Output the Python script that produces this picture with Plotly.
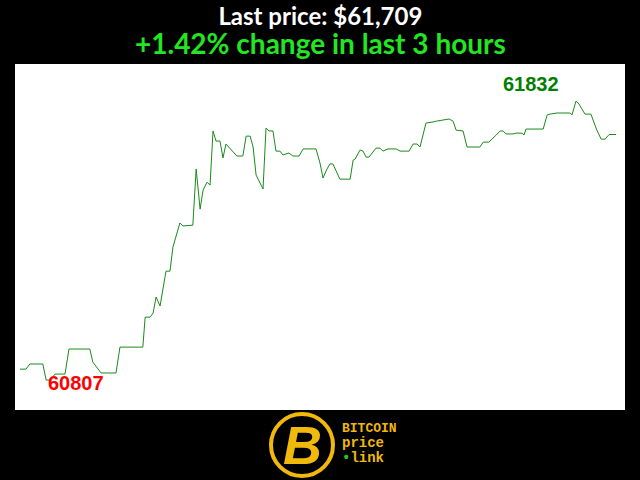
import plotly.graph_objects as go

# minutes since start of the 3 hour window, and BTC price (USD)
minutes = [
    0.0, 1.8, 3.0, 6.9, 7.9, 9.1, 10.6, 13.6, 14.8, 21.1,
    22.0, 24.5, 29.0, 30.2, 37.1, 37.8, 39.3, 40.2, 41.1, 42.3,
    44.1, 45.3, 46.2, 47.1, 48.3, 49.2, 52.2, 53.2, 54.4, 55.3,
    56.5, 57.4, 58.3, 59.2, 60.4, 61.3, 62.2, 65.5, 67.3, 68.3,
    69.5, 70.4, 71.3, 73.4, 74.3, 75.2, 76.4, 77.3, 78.5, 79.4,
    80.3, 81.2, 82.4, 84.3, 85.5, 89.4, 90.6, 91.5, 92.7, 93.6,
    94.5, 96.6, 99.7, 100.6, 101.2, 102.7, 103.6, 104.5, 105.4, 107.5,
    108.7, 109.6, 111.1, 113.6, 114.8, 117.5, 118.7, 119.9, 120.8, 122.0,
    122.6, 124.7, 125.7, 129.6, 130.8, 131.7, 133.8, 135.0, 138.9, 139.9,
    141.6, 143.8, 145.0, 145.9, 146.8, 148.9, 149.8, 151.6, 152.2, 152.8,
    158.0, 159.2, 160.1, 162.2, 166.1, 166.7, 167.9, 168.8, 170.6, 172.4,
    174.2, 175.5, 176.7, 177.9, 180.0,
]
prices = [
    60847, 60847, 60866, 60866, 60807, 60807, 60829, 60829, 60921, 60921,
    60873, 60833, 60833, 60928, 60928, 61038, 61038, 61053, 61112, 61079,
    61207, 61207, 61296, 61332, 61384, 61373, 61376, 61582, 61435, 61505,
    61534, 61523, 61722, 61685, 61685, 61623, 61674, 61630, 61630, 61703,
    61703, 61663, 61560, 61509, 61733, 61722, 61722, 61648, 61648, 61634,
    61637, 61641, 61630, 61630, 61656, 61656, 61604, 61549, 61582, 61601,
    61601, 61545, 61545, 61615, 61619, 61652, 61648, 61626, 61626, 61659,
    61659, 61648, 61656, 61656, 61648, 61648, 61674, 61674, 61663, 61725,
    61751, 61755, 61758, 61766, 61758, 61725, 61722, 61663, 61663, 61681,
    61681, 61707, 61722, 61722, 61711, 61711, 61714, 61714, 61707, 61729,
    61729, 61781, 61784, 61788, 61788, 61781, 61832, 61821, 61784, 61784,
    61725, 61692, 61692, 61709, 61709,
]

last_price = 61709
change_pct = 1.42
hours = 3

lo = min(prices)
hi = max(prices)
t_lo = minutes[prices.index(lo)]
t_hi = minutes[prices.index(hi)]

gold = "#f0b90b"

fig = go.Figure()
fig.add_trace(go.Scatter(
    x=minutes, y=prices, mode="lines",
    line=dict(color="#1a8a1a", width=1),
    hoverinfo="skip", showlegend=False,
))

# min / max labels
fig.add_annotation(x=t_lo, y=lo, text=f"<b>{lo}</b>", showarrow=False,
                   xanchor="left", yanchor="middle", yshift=-3,
                   font=dict(family="Liberation Sans", size=20, color="#ff0000"))
fig.add_annotation(x=t_hi, y=hi, text=f"<b>{hi}</b>", showarrow=False,
                   xanchor="right", yanchor="middle", xshift=-15, yshift=17,
                   font=dict(family="Liberation Sans", size=20, color="#008000"))

# header (two lines in one text block)
header = (f"<span style='font-size:24px;color:white'><b>Last price: ${last_price:,}</b></span><br>"
          f"<span style='font-size:28px;color:#22e622'><b>+{change_pct:.2f}% change in last {hours} hours</b></span>")
fig.add_annotation(xref="paper", yref="paper", x=0.5, y=(410 - 30) / 346,
                   text=header, showarrow=False, align="center",
                   xanchor="center", yanchor="middle",
                   font=dict(family="Lato", size=22, color="white"))

# logo at the bottom
fig.add_shape(type="circle", xref="paper", yref="paper",
              x0=(271 - 15) / 610, x1=(333 - 15) / 610,
              y0=(410 - 476) / 346, y1=(410 - 414) / 346,
              line=dict(color=gold, width=4), fillcolor="black")
fig.add_annotation(xref="paper", yref="paper", x=(302 - 15) / 610, y=(410 - 445) / 346,
                   text="<b><i>B</i></b>", showarrow=False,
                   xanchor="center", yanchor="middle",
                   font=dict(family="Liberation Sans", size=54, color=gold))
logo_text = ("<span style='font-size:13px'>BITCOIN</span><br>"
             "<span style='font-size:14px'>price</span><br>"
             "<span style='font-size:14px'><span style='color:#22cc22'>•</span>link</span>")
fig.add_annotation(xref="paper", yref="paper", x=(340 - 15) / 610, y=(410 - 443) / 346,
                   text=f"<b>{logo_text}</b>", showarrow=False, align="left",
                   xanchor="left", yanchor="middle",
                   font=dict(family="Liberation Mono", size=11.5, color=gold))

fig.update_xaxes(range=[-1.5, 182.7], visible=False)
fig.update_yaxes(range=[60697, 61968], visible=False)
fig.update_layout(
    width=640, height=480,
    margin=dict(l=15, r=15, t=64, b=70),
    paper_bgcolor="black", plot_bgcolor="white",
)

fig.write_html(
    "out.html",
    config={"displayModeBar": False},
    post_script="document.body.style.margin='0';document.body.style.background='black';",
)
